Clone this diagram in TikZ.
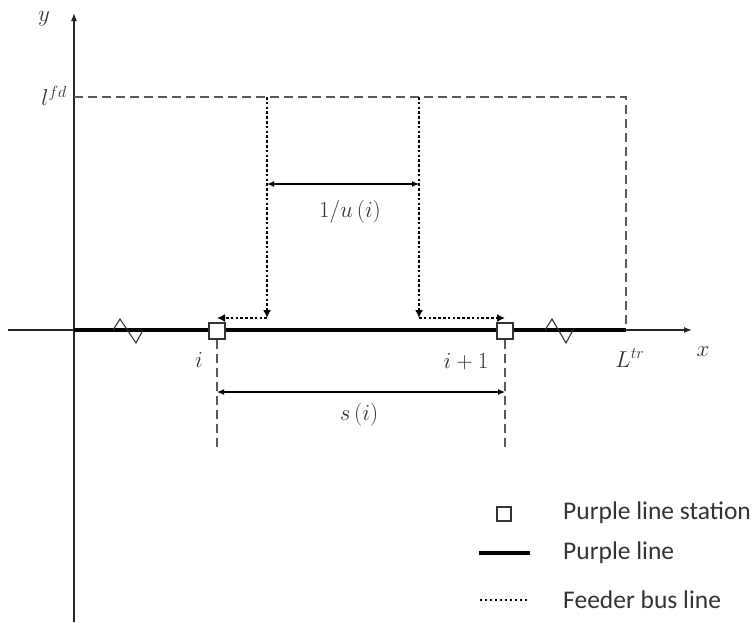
\RequirePackage{fix-cm}
\documentclass[tikz,border=0pt]{standalone}
\usepackage{fontspec}
\setmainfont{Carlito}
\usetikzlibrary{arrows.meta}
\begin{document}
\begin{tikzpicture}[x=1pt,y=-1pt,
 axis/.style={line width=1.2pt, draw=black!85},
 guide/.style={draw=black!65, line width=1.1pt, dash pattern=on 9pt off 5pt},
 feeder/.style={line width=2.8pt, dash pattern=on 2.6pt off 2.2pt, -{Latex[length=8pt,width=8pt]}},
 trunk/.style={line width=4.5pt},
 brk/.style={line width=1.1pt, draw=black!80, line join=miter},
 stn/.style={draw=black!80, line width=1.2pt, fill=white, minimum size=16pt, inner sep=0pt},
 dim/.style={line width=1.2pt, {Latex[length=7pt,width=6pt]}-{Latex[length=7pt,width=6pt]}},
 lbl/.style={font=\fontsize{23}{26}\selectfont, text=black!80, inner sep=0pt},
 leg/.style={font=\fontsize{25.5}{28}\selectfont, text=black!80, anchor=west, inner sep=0pt}]
\useasboundingbox (0,0) rectangle (754,622);
% axes
\coordinate (ytop) at (74,13);
\coordinate (ybot) at (74,622);
\coordinate (xl) at (8,330);
\coordinate (xr) at (692,330);
\draw[axis, -{Latex[length=8pt,width=6pt]}] (ybot) -- (ytop);
\draw[axis, -{Latex[length=8pt,width=6pt]}] (xl) -- (xr);
\node[lbl] (ylab) at (44,19) {$y$};
\node[lbl] (xlab) at (703,352) {$x$};
% dashed boundary
\coordinate (lfd) at (74,97);
\coordinate (corner) at (626,97);
\coordinate (Ltr) at (626,330);
\draw[guide] (lfd) -- (corner) -- (Ltr);
\node[lbl, anchor=east] (lfdlab) at (67,96) {$l^{fd}$};
\node[lbl] (Ltrlab) at (630,358) {$L^{tr}$};
% trunk line
\coordinate (O) at (74,330);
\draw[trunk] (O) -- (Ltr);
% break marks
\draw[brk] (113,330) -- (120,319) -- (136,343) -- (143,330);
\draw[brk] (545,330) -- (552,319) -- (566,343) -- (573,330);
% stations
\node[stn] (s1) at (217,331) {};
\node[stn] (s2) at (505,331) {};
\node[lbl] (ilab) at (199,360) {$i$};
\node[lbl] (i1lab) at (466,362) {$i+1$};
% station guides and spacing
\coordinate (d1) at (217,450);
\coordinate (d2) at (505,450);
\draw[guide] (s1.south) -- (d1);
\draw[guide] (s2.south) -- (d2);
\coordinate (a1) at (217,392);
\coordinate (a2) at (505,392);
\draw[dim] (a1) -- (a2);
\node[lbl] (slab) at (359,415) {$s\,(i)$};
% feeder lines
\coordinate (f1t) at (267,97);
\coordinate (f1b) at (267,318);
\coordinate (f2t) at (419,97);
\coordinate (f2b) at (419,318);
\draw[feeder] (f1t) -- (f1b);
\draw[feeder] (f1b) -- (f1b -| s1);
\draw[feeder] (f2t) -- (f2b);
\draw[feeder] (f2b) -- (f2b -| s2);
\coordinate (u1) at (267,184);
\coordinate (u2) at (419,184);
\draw[dim] (u1) -- (u2);
\node[lbl] (ulab) at (350,212) {$1/u\,(i)$};
% legend
\node[stn, minimum size=14pt] (legs) at (504,514) {};
\coordinate (legt1) at (479,553);
\coordinate (legt2) at (530,553);
\draw[trunk] (legt1) -- (legt2);
\coordinate (legf1) at (480,600);
\coordinate (legf2) at (529,600);
\draw[line width=2.4pt, dash pattern=on 2.4pt off 2.6pt] (legf1) -- (legf2);
\node[leg] (leg1) at (563,513) {Purple line station};
\node[leg] (leg2) at (563,553) {Purple line};
\node[leg] (leg3) at (563,600) {Feeder bus line};
\end{tikzpicture}
\end{document}
